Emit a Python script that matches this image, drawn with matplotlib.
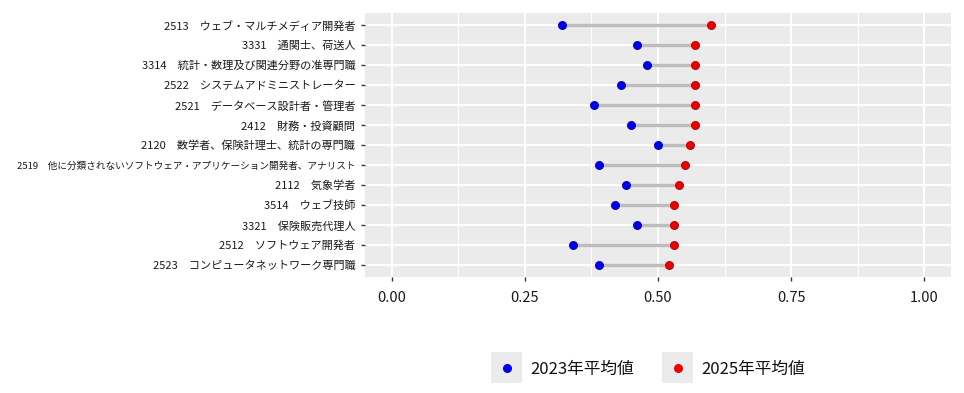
import numpy as np
import matplotlib
matplotlib.use('Agg')
import matplotlib.pyplot as plt

plt.rcParams['font.family'] = ['Noto Sans CJK JP', 'DejaVu Sans']

# occupations, top to bottom as in the chart
labels = [
    '2513\u3000ウェブ・マルチメディア開発者',
    '3331\u3000通関士、荷送人',
    '3314\u3000統計・数理及び関連分野の准専門職',
    '2522\u3000システムアドミニストレーター',
    '2521\u3000データベース設計者・管理者',
    '2412\u3000財務・投資顧問',
    '2120\u3000数学者、保険計理士、統計の専門職',
    '2519\u3000他に分類されないソフトウェア・アプリケーション開発者、アナリスト',
    '2112\u3000気象学者',
    '3514\u3000ウェブ技師',
    '3321\u3000保険販売代理人',
    '2512\u3000ソフトウェア開発者',
    '2523\u3000コンピュータネットワーク専門職',
]
avg_2023 = [0.32, 0.46, 0.48, 0.43, 0.38, 0.45, 0.50, 0.39, 0.44, 0.42, 0.46, 0.34, 0.39]
avg_2025 = [0.60, 0.57, 0.57, 0.57, 0.57, 0.57, 0.56, 0.55, 0.54, 0.53, 0.53, 0.53, 0.52]
series_names = ['2023年平均値', '2025年平均値']
series_colors = ['#0000EE', '#EE0000']

W, H = 964, 393
fig = plt.figure(figsize=(W / 100, H / 100), dpi=100)
ax = fig.add_axes([365 / W, (H - 277) / H, (951 - 365) / W, (277 - 13) / H])
ax.set_facecolor('#EBEBEB')
for s in ax.spines.values():
    s.set_visible(False)

n = len(labels)
y = np.arange(n)[::-1]  # first label on top

ax.hlines(y, avg_2023, avg_2025, color='#BDBDBD', linewidth=2.4, zorder=2)
ax.plot(avg_2023, y, 'o', color=series_colors[0], markersize=5.8,
        markeredgecolor='#0000AA', markeredgewidth=0.6, zorder=3)
ax.plot(avg_2025, y, 'o', color=series_colors[1], markersize=5.8,
        markeredgecolor='#AA0000', markeredgewidth=0.6, zorder=3)

ax.set_xlim(-0.05, 1.05)
ax.set_ylim(-0.6, n - 0.4)
ax.set_xticks([0, 0.25, 0.5, 0.75, 1.0])
ax.set_xticklabels(['0.00', '0.25', '0.50', '0.75', '1.00'])
ax.set_xticks([0.125, 0.375, 0.625, 0.875], minor=True)
ax.set_yticks(y)
ax.set_yticklabels(labels)
for t in ax.get_yticklabels():
    # the one very long label is shrunk so it fits on the left
    t.set_fontsize(6.9 if len(t.get_text()) > 30 else 8)
    t.set_color('#1A1A1A')

ax.grid(True, which='major', color='white', linewidth=1.4, zorder=1)
ax.grid(True, which='minor', axis='x', color='white', linewidth=0.7, zorder=1)
ax.set_axisbelow(True)
ax.tick_params(axis='x', which='major', length=3, width=1, color='#333333',
               labelsize=10.5, labelcolor='#1A1A1A', pad=7)
ax.tick_params(axis='x', which='minor', length=0)
ax.tick_params(axis='y', length=3, width=1, color='#333333', pad=4)

# legend at the bottom, ggplot style keys
key_x = [491, 662]
for kx, name, col in zip(key_x, series_names, series_colors):
    kax = fig.add_axes([kx / W, (H - 383) / H, 31 / W, 31 / H])
    kax.set_facecolor('#EBEBEB')
    kax.plot([0.5], [0.5], 'o', color=col, markersize=5.5)
    kax.set_xlim(0, 1)
    kax.set_ylim(0, 1)
    kax.set_xticks([])
    kax.set_yticks([])
    for s in kax.spines.values():
        s.set_visible(False)
    fig.text((kx + 39) / W, (H - 369) / H, name, fontsize=12,
             va='center', ha='left', color='#111111')

fig.savefig('out.png', dpi=100)
